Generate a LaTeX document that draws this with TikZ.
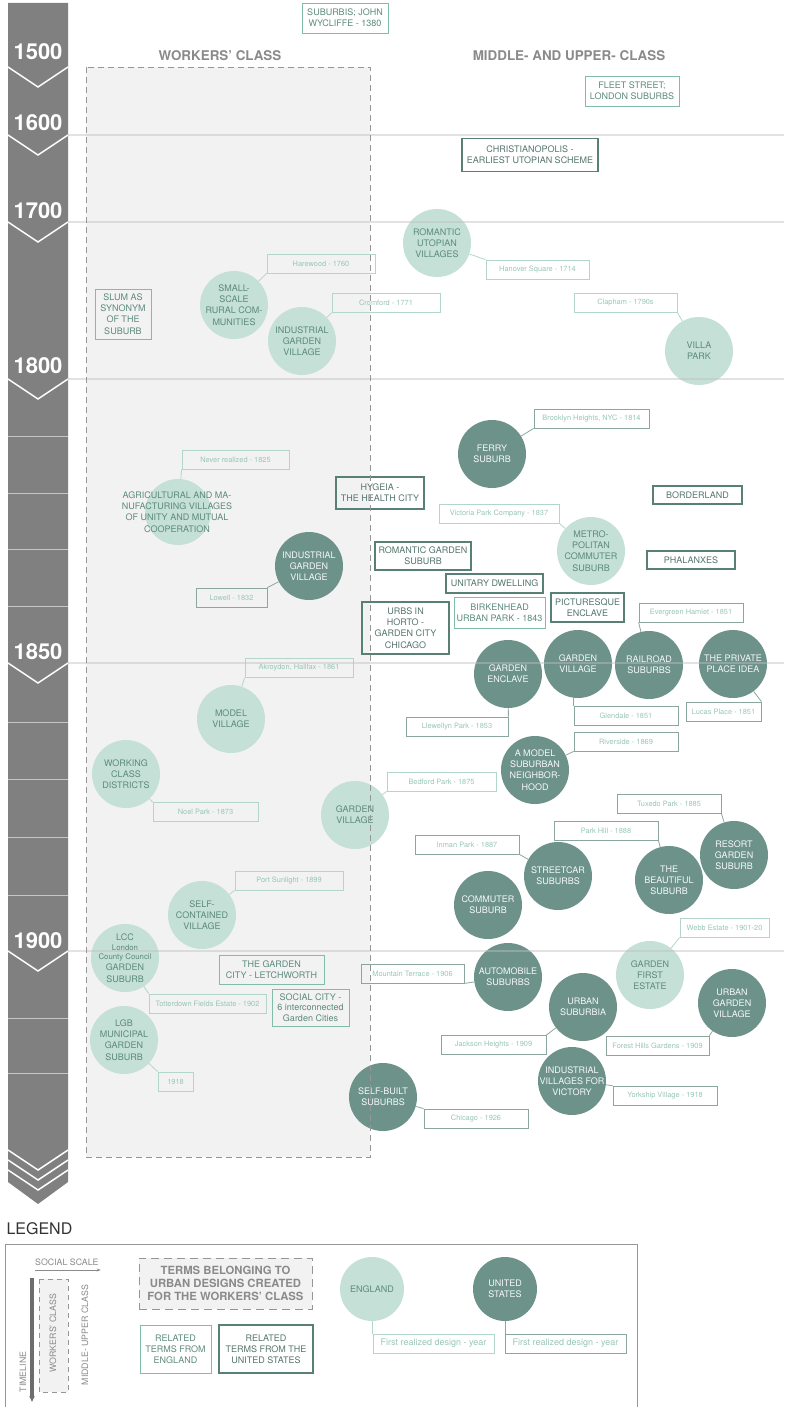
\documentclass[tikz,border=0pt]{standalone}
\usepackage{fontspec}
\setmainfont{TeX Gyre Heros}
\usetikzlibrary{arrows.meta, positioning, calc}
\definecolor{BarGray}{RGB}{128,128,128}
\definecolor{ZoneFill}{RGB}{242,242,242}
\definecolor{ZoneLine}{RGB}{150,150,150}
\definecolor{HeadGray}{RGB}{138,138,138}
\definecolor{EnFill}{RGB}{197,224,214}
\definecolor{UsFill}{RGB}{108,146,137}
\definecolor{EnText}{RGB}{92,138,125}
\definecolor{UsText}{RGB}{84,116,109}
\definecolor{EnLine}{RGB}{128,188,168}
\definecolor{UsLine}{RGB}{88,128,118}
\definecolor{DateText}{RGB}{150,198,183}
\definecolor{EnDateLine}{RGB}{178,214,202}
\definecolor{UsDateLine}{RGB}{138,166,159}

\tikzset{
  termtext/.style={font=\fontsize{9}{11.2}\selectfont, align=center, inner sep=1pt},
  enbox/.style={termtext, draw=EnLine, line width=0.9pt, text=EnText},
  usbox/.style={termtext, draw=UsLine, line width=1.3pt, text=UsText},
  encirc/.style={termtext, circle, fill=EnFill, text=EnText, minimum size=68, inner sep=-4pt},
  uscirc/.style={termtext, circle, fill=UsFill, text=white!94!UsFill, minimum size=68, inner sep=-4pt},
  endate/.style={font=\fontsize{7.4}{8}\selectfont, draw=EnDateLine, line width=0.8pt, text=DateText, minimum height=19, inner sep=1pt},
  usdate/.style={endate, draw=UsDateLine},
  enlink/.style={draw=EnDateLine, line width=0.8pt},
  uslink/.style={draw=UsDateLine, line width=0.8pt},
  year/.style={font=\fontsize{22}{22}\selectfont\bfseries, text=white},
  chev/.style={white, line width=1.5pt},
  head/.style={font=\fontsize{13.4}{14}\selectfont\bfseries, text=HeadGray},
  legtext/.style={font=\fontsize{8.8}{10}\selectfont, text=HeadGray},
}

\begin{document}
\begin{tikzpicture}[x=1pt, y=-1pt]
\useasboundingbox (0,0) rectangle (784,1407);

% timeline bar
\fill[BarGray] (8,3) -- (68,3) -- (68,1182) -- (38,1204) -- (8,1182) -- cycle;
\foreach \ly in {436,493,549,606,722,779,837,895,1018,1073}
  \draw[BarGray!45!white, line width=1pt] (8,\ly) -- (68,\ly);
\foreach \cy in {67,135,222,379,663,951,1150,1160,1170}
  \draw[chev] (8,\cy) -- (38,\cy+20) -- (68,\cy);
\node[year] (y1500) at (38,52) {1500};
\node[year] (y1600) at (38,123) {1600};
\node[year] (y1700) at (38,211) {1700};
\node[year] (y1800) at (38,366) {1800};
\node[year] (y1850) at (38,652) {1850};
\node[year] (y1900) at (38,941) {1900};

% social zones
\fill[ZoneFill] (86,67) rectangle (370,1157);
\node[head] (workers) at (220,56) {WORKERS’ CLASS};
\node[head] (upper) at (569,56) {MIDDLE- AND UPPER- CLASS};

% before 1700
\node[enbox, minimum width=86, minimum height=30] (wycliffe) at (345,18) {SUBURBIS; JOHN\\WYCLIFFE - 1380};
\node[enbox, minimum width=94, minimum height=30] (fleet) at (632,91) {FLEET STREET;\\LONDON SUBURBS};
\node[usbox, minimum width=136, minimum height=33] (christ) at (530,155) {CHRISTIANOPOLIS -\\EARLIEST UTOPIAN SCHEME};

% 1700 - 1800
\node[encirc] (romutop) at (437,243) {ROMANTIC\\UTOPIAN\\VILLAGES};
\node[endate, minimum width=103] (hanover) at (537.5,269.5) {Hanover Square - 1714};
\draw[enlink] (romutop) -- (hanover.north west);
\node[encirc] (rural) at (234,305) {SMALL-\\SCALE\\RURAL COM-\\MUNITIES};
\node[endate, minimum width=108] (harewood) at (321,263.5) {Harewood - 1760};
\draw[enlink] (harewood.south west) -- (rural);
\node[encirc] (indgarden) at (302,341) {INDUSTRIAL\\GARDEN\\VILLAGE};
\node[endate, minimum width=108] (cromford) at (386,303) {Cromford - 1771};
\draw[enlink] (cromford.south west) -- (indgarden);
\node[enbox, minimum width=56, minimum height=50] (slum) at (123,314) {SLUM AS\\SYNONYM\\OF THE\\SUBURB};
\node[encirc] (villa) at (699,351) {VILLA\\PARK};
\node[endate, minimum width=103] (clapham) at (625.5,302.5) {Clapham - 1790s};
\draw[enlink] (clapham.south east) -- (villa);

% 1800 - 1850
\node[uscirc] (ferry) at (492,454) {FERRY\\SUBURB};
\node[usdate, minimum width=115] (brooklyn) at (591.5,418.5) {Brooklyn Heights, NYC - 1814};
\draw[uslink] (ferry) -- (brooklyn.south west);
\node[usbox, minimum width=88, minimum height=32] (hygeia) at (380,493) {HYGEIA -\\THE HEALTH CITY};
\node[usbox, minimum width=89, minimum height=18] (borderland) at (697.5,495) {BORDERLAND};
\node[encirc] (metro) at (591,551) {METRO-\\POLITAN\\COMMUTER\\SUBURB};
\node[endate, minimum width=120] (victoria) at (499,513.5) {Victoria Park Company - 1837};
\draw[enlink] (victoria.south east) -- (metro);
\node[usbox, minimum width=88, minimum height=18] (phalanx) at (691,560) {PHALANXES};
\node[usbox, minimum width=96, minimum height=28] (romgarden) at (423,556) {ROMANTIC GARDEN\\SUBURB};
\node[usbox, minimum width=97, minimum height=19] (unitary) at (494.5,583.5) {UNITARY DWELLING};
\node[enbox, minimum width=91, minimum height=31] (birkenhead) at (499.5,612.5) {BIRKENHEAD\\URBAN PARK - 1843};
\node[usbox, minimum width=73, minimum height=29] (picturesque) at (587.5,607.5) {PICTURESQUE\\ENCLAVE};
\node[usbox, minimum width=87, minimum height=52] (urbs) at (405.5,628) {URBS IN\\HORTO -\\GARDEN CITY\\CHICAGO};
\node[circle, fill=EnFill, minimum size=66] (agri) at (178,512) {};
\node[termtext, text=EnText] (agritext) at (177,512) {AGRICULTURAL AND MA-\\NUFACTURING VILLAGES\\OF UNITY AND MUTUAL\\COOPERATION};
\node[endate, minimum width=107] (neverreal) at (235.5,459.5) {Never realized - 1825};
\draw[enlink] (neverreal.south west) -- (agri);
\node[uscirc] (lowellvil) at (309,566) {INDUSTRIAL\\GARDEN\\VILLAGE};
\node[usdate, minimum width=71] (lowell) at (231.5,597.5) {Lowell - 1832};
\draw[uslink] (lowell.north east) -- (lowellvil);

% 1850 - 1900
\node[uscirc] (enclave) at (508,674) {GARDEN\\ENCLAVE};
\node[usdate, minimum width=102] (llewellyn) at (457,726.5) {Llewellyn Park - 1853};
\draw[uslink] (enclave) -- (llewellyn.north east);
\node[uscirc] (usgardenvil) at (578,664) {GARDEN\\VILLAGE};
\node[usdate, minimum width=104] (glendale) at (626,715.5) {Glendale - 1851};
\draw[uslink] (glendale.north west) -- (glendale.north west |- usgardenvil.south);
\node[uscirc] (railroad) at (649,665) {RAILROAD\\SUBURBS};
\node[usdate, minimum width=104] (evergreen) at (691,612.5) {Evergreen Hamlet - 1851};
\draw[uslink] (evergreen.south west) -- (railroad);
\node[uscirc] (private) at (733,664) {THE PRIVATE\\PLACE IDEA};
\node[usdate, minimum width=75] (lucas) at (723.5,711.5) {Lucas Place - 1851};
\draw[uslink] (private) -- (lucas.north east);
\node[uscirc] (modelsub) at (535,770) {A MODEL\\SUBURBAN\\NEIGHBOR-\\HOOD};
\node[usdate, minimum width=104] (riverside) at (626,741.5) {Riverside - 1869};
\draw[uslink] (riverside.south west) -- (modelsub);
\node[encirc] (modelvil) at (231,719) {MODEL\\VILLAGE};
\node[endate, minimum width=108] (akroydon) at (299,668) {Akroydon, Halifax - 1861};
\draw[enlink] (akroydon.south west) -- (modelvil);
\node[encirc] (working) at (126,774) {WORKING\\CLASS\\DISTRICTS};
\node[endate, minimum width=105] (noel) at (205.5,812) {Noel Park - 1873};
\draw[enlink] (working) -- (noel.north west);
\node[encirc] (engardenvil) at (355,815) {GARDEN\\VILLAGE};
\node[endate, minimum width=109] (bedford) at (441.5,781.5) {Bedford Park - 1875};
\draw[enlink] (bedford.south west) -- (engardenvil);
\node[uscirc] (resort) at (734,855) {RESORT\\GARDEN\\SUBURB};
\node[usdate, minimum width=104] (tuxedo) at (669,803.5) {Tuxedo Park - 1885};
\draw[uslink] (tuxedo.south east) -- (resort);
\node[uscirc] (beautiful) at (669,880) {THE\\BEAUTIFUL\\SUBURB};
\node[usdate, minimum width=104] (parkhill) at (606,830.5) {Park Hill - 1888};
\draw[uslink] (parkhill.south east) -- (beautiful);
\node[uscirc] (streetcar) at (558,876) {STREETCAR\\SUBURBS};
\node[usdate, minimum width=104] (inman) at (467,844.5) {Inman Park - 1887};
\draw[uslink] (inman.south east) -- (streetcar);
\node[uscirc] (commuter) at (488,905) {COMMUTER\\SUBURB};
\node[encirc] (selfcont) at (202,915) {SELF-\\CONTAINED\\VILLAGE};
\node[endate, minimum width=108] (sunlight) at (289,880.5) {Port Sunlight - 1899};
\draw[enlink] (sunlight.south west) -- (selfcont);

% after 1900
\node[encirc] (lcc) at (125,958) {LCC\\[-1.5pt]{\fontsize{7.8}{9}\selectfont London}\\[-1.5pt]{\fontsize{7.8}{9}\selectfont County Council}\\GARDEN\\SUBURB};
\node[endate, minimum width=117] (totterdown) at (207.5,1003.5) {Totterdown Fields Estate - 1902};
\draw[enlink] (lcc) -- (totterdown.north west);
\node[encirc] (lgb) at (124,1040) {LGB\\MUNICIPAL\\GARDEN\\SUBURB};
\node[endate, minimum width=35] (lgbyear) at (175.5,1081.5) {1918};
\draw[enlink] (lgb) -- (lgbyear.north west);
\node[enbox, minimum width=105, minimum height=29] (letchworth) at (271.5,969.5) {THE GARDEN\\CITY - LETCHWORTH};
\node[enbox, minimum width=77, minimum height=37, font=\fontsize{9}{10.6}\selectfont] (socialcity) at (310.5,1007.5) {SOCIAL CITY -\\6 interconnected\\Garden Cities};
\node[uscirc] (automobile) at (508,977) {AUTOMOBILE\\SUBURBS};
\node[usdate, minimum width=103] (mountain) at (412.5,973.5) {Mountain Terrace - 1906};
\draw[uslink] (mountain.south east) -- (automobile);
\node[uscirc] (urbsub) at (583,1007) {URBAN\\SUBURBIA};
\node[usdate, minimum width=105] (jackson) at (493.5,1045) {Jackson Heights - 1909};
\draw[uslink] (jackson.north east) -- (urbsub);
\node[encirc] (gfirst) at (650,975) {GARDEN\\FIRST\\ESTATE};
\node[endate, minimum width=89] (webb) at (724.5,927.5) {Webb Estate - 1901-20};
\draw[enlink] (webb.south west) -- (gfirst);
\node[uscirc] (urbgarden) at (732,1003) {URBAN\\GARDEN\\VILLAGE};
\node[usdate, minimum width=103] (foresthills) at (657.5,1045.5) {Forest Hills Gardens - 1909};
\draw[uslink] (foresthills.north east) -- (urbgarden);
\node[uscirc] (victory) at (572,1081) {INDUSTRIAL\\VILLAGES FOR\\VICTORY};
\node[usdate, minimum width=104] (yorkship) at (665,1095.5) {Yorkship Village - 1918};
\draw[uslink] (victory) -- (yorkship.north west);
\node[uscirc] (selfbuilt) at (383,1097) {SELF-BUILT\\SUBURBS};
\node[usdate, minimum width=104] (chicago) at (476,1118.5) {Chicago - 1926};
\draw[uslink] (selfbuilt) -- (chicago.north west);

% century rules and zone border on top
\foreach \ly in {135,222,379,663,951}
  \draw[black!25, opacity=0.45, line width=1.2pt] (68,\ly) -- (784,\ly);
\draw[ZoneLine, line width=0.8pt, dash pattern=on 6pt off 4pt] (86,67) rectangle (370,1157);

% legend
\node[anchor=west, font=\fontsize{16}{16}\selectfont, text=black!80] (legend) at (3,1229) {LEGEND};
\draw[ZoneLine, line width=0.9pt] (5,1410) -- (5,1244) -- (637,1244) -- (637,1410);
\node[legtext, anchor=south west, inner sep=0pt] (scale) at (35,1266) {SOCIAL SCALE};
\draw[HeadGray, line width=0.6pt, -{Stealth[length=4pt, width=3pt]}] ([yshift=-4pt]scale.south west) -- ([yshift=-4pt, xshift=2pt]scale.south east);
\draw[BarGray!85!black, line width=4.5pt, -{Triangle[length=6pt, width=5pt]}] (32,1278) -- (32,1402);
\node[legtext, rotate=90] (timeline) at (23,1372) {TIMELINE};
\draw[ZoneLine, fill=ZoneFill, line width=0.8pt, dash pattern=on 5pt off 4pt] (39,1279) rectangle (68,1392);
\node[legtext, rotate=90] (legworkers) at (53,1333) {WORKERS’ CLASS};
\node[legtext, rotate=90] (legupper) at (85,1335) {MIDDLE- UPPER CLASS};
\node[draw=ZoneLine, fill=ZoneFill, line width=0.8pt, dash pattern=on 8pt off 5pt, minimum width=173, minimum height=51, align=center, inner sep=1pt, text=HeadGray, font=\fontsize{11.3}{12.7}\selectfont\bfseries] (terms) at (225.5,1283.5) {TERMS BELONGING TO\\URBAN DESIGNS CREATED\\FOR THE WORKERS’ CLASS};
\node[enbox, minimum width=71, minimum height=48] (relen) at (175.5,1349) {RELATED\\TERMS FROM\\ENGLAND};
\node[usbox, minimum width=94, minimum height=48] (relus) at (266,1349) {RELATED\\TERMS FROM THE\\UNITED STATES};
\node[encirc, minimum size=64] (england) at (372,1289) {ENGLAND};
\node[endate, minimum width=121, font=\fontsize{9}{10}\selectfont] (enfirst) at (433.5,1343.5) {First realized design - year};
\draw[enlink] (england.south) -- (england.south |- enfirst.north);
\node[uscirc, minimum size=64] (usa) at (505,1289) {UNITED\\STATES};
\node[usdate, minimum width=121, font=\fontsize{9}{10}\selectfont] (usfirst) at (565.5,1343.5) {First realized design - year};
\draw[uslink] (usa.south) -- (usa.south |- usfirst.north);
\end{tikzpicture}
\end{document}
